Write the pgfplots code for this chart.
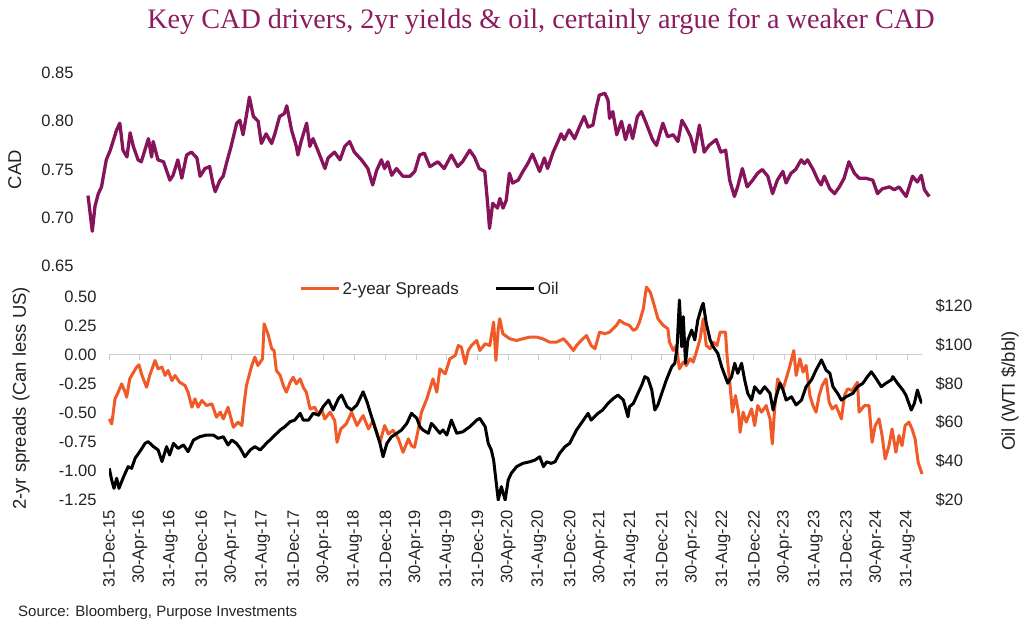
\documentclass[border=0pt]{standalone}
\usepackage{pgfplots}
\pgfplotsset{compat=1.18}
\usepackage{fontspec}
\setmainfont{Liberation Sans}
\newfontfamily\titlefont{Liberation Serif}
\definecolor{cadc}{RGB}{134,20,90}
\definecolor{titlec}{RGB}{140,28,95}
\definecolor{spreadc}{RGB}{240,90,40}
\definecolor{txt}{RGB}{35,35,35}
\definecolor{zeroc}{RGB}{205,205,205}
\newcommand{\tickfont}{\fontsize{16.5}{18}\selectfont}
\newcommand{\labfont}{\fontsize{18.5}{20}\selectfont}

\begin{document}
\begin{tikzpicture}[x=1pt,y=1pt]
\path[use as bounding box] (0,0) rectangle (1024,-633);
\node[font=\titlefont\fontsize{28.2}{32}\selectfont, text=titlec, inner sep=0] at (541,-22) {Key CAD drivers, 2yr yields \& oil, certainly argue for a weaker CAD};
\node[font=\fontsize{15}{17}\selectfont, text=txt, inner sep=0, anchor=west] at (18,-613) {Source: Bloomberg, Purpose Investments};

% ---------------- top panel: CAD
\begin{axis}[at={(88pt,-266pt)}, anchor=south west, scale only axis,
  width=842pt, height=193pt, xmin=0, xmax=105.9, ymin=0.65, ymax=0.85,
  clip=false,
  xtick=\empty, ytick={0.65,0.7,0.75,0.8,0.85},
  yticklabels={0.65,0.70,0.75,0.80,0.85},
  axis line style={draw=none}, tick style={draw=none},
  yticklabel style={font=\tickfont, text=txt},
  yticklabel shift=11pt,
  ylabel={CAD}, ylabel style={font=\labfont, text=txt, at={(axis description cs:-0.087,0.5)}, anchor=center},
]
\addplot[cadc, line width=3.3pt, line join=round, no markers] coordinates {
(0,0.723)(0.54,0.686)(0.88,0.712)(1.3,0.725)(1.7,0.732)(2.3,0.760)(2.8,0.770)(3.6,0.791)(4.0,0.798)(4.4,0.770)
(4.9,0.763)(5.3,0.788)(5.7,0.774)(6.3,0.760)(6.7,0.758)(7.6,0.782)(8.0,0.763)(8.2,0.779)(8.8,0.760)(9.5,0.758)
(10.3,0.739)(10.7,0.744)(11.3,0.760)(11.8,0.741)(12.4,0.765)(13.0,0.768)(13.7,0.762)(14.1,0.743)(14.7,0.751)(15.3,0.753)
(15.7,0.736)(16.0,0.727)(16.6,0.739)(17.0,0.743)(17.4,0.756)(18.0,0.774)(18.7,0.798)(19.1,0.801)(19.5,0.786)(19.9,0.805)
(20.3,0.825)(20.8,0.805)(21.4,0.800)(21.8,0.777)(22.4,0.787)(23.1,0.777)(23.5,0.787)(24.1,0.805)(24.7,0.808)(25.0,0.816)
(25.6,0.791)(26.2,0.774)(26.4,0.765)(26.8,0.779)(27.5,0.798)(27.9,0.774)(28.3,0.782)(28.9,0.770)(29.8,0.751)(30.2,0.762)
(31.0,0.768)(31.7,0.760)(32.3,0.774)(32.9,0.779)(33.5,0.768)(34.4,0.760)(35.2,0.751)(35.8,0.734)(36.3,0.749)(36.9,0.760)
(37.3,0.751)(37.7,0.758)(38.2,0.744)(38.8,0.751)(39.6,0.743)(40.5,0.743)(41.1,0.748)(41.7,0.765)(42.3,0.767)(43.0,0.753)
(44.0,0.758)(44.8,0.751)(45.7,0.765)(46.5,0.753)(47.1,0.758)(48.0,0.770)(48.6,0.763)(49.2,0.751)(49.9,0.748)(50.3,0.711)
(50.5,0.689)(50.9,0.715)(51.5,0.710)(51.8,0.720)(52.2,0.710)(52.6,0.718)(53.0,0.746)(53.4,0.736)(54.1,0.739)(54.7,0.748)
(55.3,0.756)(55.9,0.766)(56.8,0.748)(57.4,0.762)(57.8,0.751)(58.5,0.768)(59.1,0.779)(59.5,0.787)(59.9,0.781)(60.5,0.791)
(61.2,0.782)(61.8,0.794)(62.4,0.805)(62.9,0.794)(63.5,0.796)(63.9,0.813)(64.3,0.827)(65.0,0.829)(65.4,0.822)(65.6,0.803)
(66.0,0.810)(66.5,0.786)(67.1,0.800)(67.6,0.781)(68.1,0.796)(68.5,0.782)(69.1,0.805)(69.6,0.810)(70.2,0.798)(71.0,0.781)
(71.5,0.775)(72.3,0.798)(72.9,0.784)(73.6,0.786)(74.2,0.779)(74.7,0.801)(75.2,0.794)(75.8,0.784)(76.3,0.768)(76.9,0.796)
(77.5,0.768)(78.1,0.775)(79.0,0.781)(79.6,0.768)(80.2,0.770)(80.7,0.739)(81.3,0.722)(81.7,0.732)(82.3,0.751)(82.9,0.732)
(83.6,0.739)(84.2,0.746)(84.8,0.750)(85.5,0.743)(86.1,0.725)(86.7,0.739)(87.4,0.748)(87.8,0.736)(88.4,0.746)(89.0,0.750)
(89.7,0.760)(90.1,0.756)(90.5,0.760)(91.2,0.750)(91.8,0.739)(92.2,0.734)(92.6,0.743)(93.3,0.730)(93.9,0.725)(94.5,0.732)
(95.1,0.741)(95.7,0.758)(96.4,0.746)(97.0,0.741)(97.8,0.741)(98.7,0.739)(99.3,0.725)(99.9,0.730)(100.8,0.732)(101.4,0.729)
(102.0,0.732)(102.9,0.722)(103.7,0.743)(104.3,0.737)(104.8,0.744)(105.2,0.729)(105.8,0.722)
};
\end{axis}

% ---------------- bottom panel: zero line with ticks
\begin{axis}[at={(109pt,-500pt)}, anchor=south west, scale only axis,
  width=813pt, height=203.3pt, xmin=0, xmax=105.9, ymin=-1.25, ymax=0.5,
  axis x line=middle, axis y line=none, axis line style={-, draw=zeroc, line width=1pt},
  xtick={0,4,...,104}, xticklabels={}, ytick=\empty,
  tick align=outside, major tick length=5pt, xtick style={draw=zeroc, line width=1pt},
]
\addplot[draw=none] coordinates {(0,0)};
\end{axis}

% ---------------- bottom panel: spreads (left axis)
\begin{axis}[at={(109pt,-500pt)}, anchor=south west, scale only axis,
  width=813pt, height=203.3pt, xmin=0, xmax=105.9, ymin=-1.25, ymax=0.5,
  clip=false,
  axis line style={draw=none}, tick style={draw=none},
  ytick={-1.25,-1,-0.75,-0.5,-0.25,0,0.25,0.5},
  yticklabels={-1.25,-1.00,-0.75,-0.50,-0.25,0.00,0.25,0.50},
  xtick={0,4,...,104},
  xticklabels={31-Dec-15,30-Apr-16,31-Aug-16,31-Dec-16,30-Apr-17,31-Aug-17,31-Dec-17,30-Apr-18,31-Aug-18,31-Dec-18,30-Apr-19,31-Aug-19,31-Dec-19,30-Apr-20,31-Aug-20,31-Dec-20,30-Apr-21,31-Aug-21,31-Dec-21,30-Apr-22,31-Aug-22,31-Dec-22,30-Apr-23,31-Aug-23,31-Dec-23,30-Apr-24,31-Aug-24},
  xticklabel style={font=\tickfont, text=txt, rotate=90, anchor=east},
  xticklabel shift=7pt,
  yticklabel style={font=\tickfont, text=txt},
  yticklabel shift=9pt,
  ylabel={2-yr spreads (Can less US)}, ylabel style={font=\labfont, text=txt, at={(axis description cs:-0.108,0.5)}, anchor=center},
]
\addplot[spreadc, line width=3pt, line join=round, no markers] coordinates {
(0.04,-0.552)(0.35,-0.595)(0.56,-0.494)(0.78,-0.379)(1.2,-0.322)(1.65,-0.25)(2.1,-0.322)(2.3,-0.365)(2.7,-0.207)(3.2,-0.149)
(3.6,-0.106)(3.9,-0.086)(4.3,-0.178)(4.9,-0.279)(5.3,-0.178)(6.0,-0.049)(6.4,-0.121)(6.9,-0.106)(7.3,-0.178)(7.7,-0.135)
(8.2,-0.222)(8.6,-0.178)(9.2,-0.236)(9.9,-0.264)(10.3,-0.322)(10.8,-0.451)(11.2,-0.379)(11.6,-0.451)(12.1,-0.393)(12.7,-0.437)
(13.4,-0.422)(14.0,-0.537)(14.5,-0.494)(14.9,-0.552)(15.5,-0.451)(16.2,-0.624)(16.8,-0.580)(17.3,-0.609)(17.6,-0.422)(17.9,-0.264)
(18.6,-0.092)(19.0,-0.020)(19.4,-0.092)(20.0,-0.034)(20.2,0.267)(20.7,0.181)(21.2,0.052)(21.5,0.037)(21.8,-0.135)(22.3,-0.178)
(22.7,-0.264)(23.1,-0.322)(23.6,-0.236)(24.0,-0.193)(24.4,-0.25)(24.9,-0.207)(25.3,-0.279)(25.7,-0.322)(26.2,-0.466)(26.8,-0.451)
(27.3,-0.523)(27.7,-0.466)(28.1,-0.552)(28.8,-0.494)(29.4,-0.566)(29.7,-0.753)(30.2,-0.638)(30.9,-0.595)(31.6,-0.494)(32.3,-0.609)
(33.1,-0.523)(33.8,-0.638)(34.4,-0.566)(35.3,-0.753)(35.9,-0.609)(36.4,-0.681)(37.0,-0.65)(37.7,-0.724)(38.3,-0.839)(39.0,-0.724)
(39.4,-0.782)(39.8,-0.796)(40.3,-0.638)(40.7,-0.494)(41.4,-0.379)(41.8,-0.293)(42.2,-0.207)(42.7,-0.322)(43.1,-0.121)(43.8,-0.164)
(44.4,-0.034)(45.1,-0.006)(45.5,0.080)(45.9,0.066)(46.4,-0.078)(46.8,0.037)(47.2,0.080)(47.9,0.123)(48.3,0.037)(49.0,0.095)
(49.6,0.080)(50.1,0.282)(50.4,-0.049)(50.7,0.224)(50.9,0.310)(51.3,0.181)(52.2,0.138)(53.1,0.123)(53.9,0.138)(54.8,0.152)
(55.7,0.152)(56.5,0.138)(57.4,0.109)(58.3,0.109)(59.2,0.138)(59.8,0.095)(60.5,0.037)(60.9,0.080)(61.5,0.123)(62.2,0.166)
(62.8,0.080)(63.3,0.052)(63.9,0.195)(64.6,0.181)(65.2,0.195)(66.1,0.253)(66.5,0.296)(67.2,0.267)(67.8,0.253)(68.3,0.210)
(68.7,0.224)(69.1,0.282)(69.6,0.397)(70.0,0.583)(70.5,0.54)(70.9,0.454)(71.5,0.310)(72.2,0.253)(72.8,0.224)(73.0,0.109)
(73.5,0.037)(73.9,0.080)(74.3,-0.121)(74.8,-0.063)(75.2,-0.092)(75.7,-0.034)(76.1,-0.063)(76.5,0.023)(77.0,0.138)(77.4,0.310)
(77.8,0.080)(78.3,0.052)(78.7,0.109)(79.2,0.080)(79.6,0.195)(80.3,0.195)(80.5,-0.006)(80.9,-0.264)(81.2,-0.494)(81.6,-0.351)
(82.0,-0.494)(82.2,-0.667)(82.6,-0.494)(83.0,-0.580)(83.7,-0.466)(84.1,-0.609)(84.5,-0.437)(85.0,-0.494)(85.6,-0.437)(86.1,-0.552)
(86.4,-0.767)(86.7,-0.466)(87.1,-0.207)(87.8,-0.293)(88.2,-0.207)(88.7,-0.092)(89.2,0.037)(89.5,-0.178)(90.0,-0.034)(90.4,-0.149)
(90.8,-0.092)(91.3,-0.351)(91.7,-0.437)(92.1,-0.494)(92.5,-0.351)(92.9,-0.264)(93.4,-0.207)(93.8,-0.408)(94.2,-0.466)(94.7,-0.437)
(95.4,-0.552)(95.8,-0.351)(96.2,-0.293)(96.8,-0.307)(97.5,-0.236)(97.7,-0.494)(98.4,-0.437)(99.0,-0.437)(99.4,-0.753)(99.8,-0.609)
(100.3,-0.552)(100.7,-0.695)(101.1,-0.897)(101.6,-0.782)(102.0,-0.638)(102.5,-0.839)(102.9,-0.695)(103.3,-0.782)(103.7,-0.609)(104.2,-0.580)
(104.6,-0.638)(105.0,-0.724)(105.4,-0.925)(105.9,-1.026)
};
\end{axis}

% ---------------- bottom panel: oil (right axis)
\begin{axis}[at={(109pt,-500pt)}, anchor=south west, scale only axis,
  width=813pt, height=203.3pt, xmin=0, xmax=105.9, ymin=20, ymax=124.8,
  axis x line=none, axis y line*=right,
  axis line style={draw=none}, tick style={draw=none},
  ytick={20,40,60,80,100,120},
  yticklabels={\$20,\$40,\$60,\$80,\$100,\$120},
  yticklabel style={font=\tickfont, text=txt},
  yticklabel shift=10pt,
  ylabel={Oil (WTI \$/bbl)}, ylabel style={font=\labfont, text=txt, at={(axis description cs:1.108,0.536)}, anchor=center, rotate=0},
  legend style={at={(0.395,1.038)}, anchor=center, draw=none, fill=none,
    font=\fontsize{17}{19}\selectfont, text=txt, legend columns=2,
    /tikz/every even column/.append style={column sep=34pt}},
  legend image code/.code={\draw[#1] (0pt,0pt) -- (38pt,0pt);},
]
\addlegendimage{spreadc, line width=3pt}
\addlegendentry{2-year Spreads}
\addplot[black, line width=3pt, line join=round, no markers] coordinates {
(0.04,36.3)(0.35,30.3)(0.65,26.0)(1.0,31.2)(1.3,26.0)(1.9,32.0)(2.5,37.2)(2.95,36.3)(3.4,41.5)(4.0,44.9)
(4.7,49.2)(5.1,50.1)(5.8,47.5)(6.4,45.8)(6.9,39.8)(7.5,47.5)(7.9,43.2)(8.4,49.2)(9.0,46.6)(9.7,48.4)
(10.3,44.9)(11.0,50.9)(11.8,52.6)(12.7,53.5)(13.6,53.5)(14.2,51.8)(14.9,52.6)(15.5,48.4)(16.0,50.9)(16.6,49.2)
(17.1,46.6)(17.7,42.3)(18.4,45.8)(19.0,47.5)(19.7,45.8)(20.5,49.2)(21.4,52.6)(22.3,56.1)(22.9,57.8)(23.6,60.4)
(24.2,61.2)(24.9,64.7)(25.3,61.2)(26.0,61.2)(26.6,64.7)(27.3,63.8)(27.9,68.1)(28.6,71.5)(29.2,66.4)(29.9,72.4)
(30.3,74.1)(31.0,68.1)(31.6,66.4)(32.3,69.0)(33.1,75.8)(33.6,70.7)(34.2,62.9)(34.6,57.8)(35.3,49.2)(35.7,42.3)
(36.2,49.2)(36.8,52.6)(37.5,54.4)(38.1,56.1)(38.8,59.5)(39.4,64.7)(40.1,62.1)(40.5,57.8)(40.9,56.1)(41.6,54.4)
(42.0,59.5)(42.4,57.8)(43.1,54.4)(43.5,56.1)(44.0,53.5)(44.6,61.2)(45.3,54.4)(46.1,55.2)(47.0,57.8)(47.9,61.2)
(48.3,62.1)(49.0,57.8)(49.4,49.2)(49.8,45.8)(50.1,40.6)(50.4,30.3)(50.7,20.0)(51.1,26.9)(51.6,20.0)(52.0,30.3)
(52.4,33.8)(53.1,37.2)(53.9,38.9)(54.8,39.7)(55.5,40.6)(56.1,42.3)(56.6,37.2)(57.0,39.7)(57.6,38.9)(58.1,39.7)
(58.7,44.1)(59.4,47.5)(60.0,49.2)(60.9,56.1)(61.8,61.2)(62.4,64.7)(62.8,61.2)(63.7,64.7)(64.3,66.4)(65.0,69.8)
(65.7,72.4)(66.3,74.1)(67.0,71.5)(67.6,62.9)(67.8,68.1)(68.3,69.8)(68.9,75.0)(69.4,79.3)(69.8,83.6)(70.2,82.7)
(70.7,76.7)(71.1,66.4)(71.5,69.0)(72.0,75.0)(72.6,81.9)(73.3,88.7)(73.7,90.5)(74.0,99.0)(74.3,123.1)(74.6,99.0)
(74.8,114.5)(75.1,90.5)(75.4,102.5)(75.9,107.6)(76.3,102.5)(76.7,112.8)(77.2,119.6)(77.4,121.4)(77.8,111.1)(78.3,102.5)
(78.7,99.0)(79.3,95.6)(79.8,88.7)(80.2,84.4)(80.6,80.2)(81.1,83.6)(81.5,90.5)(81.9,85.3)(82.4,90.5)(82.8,81.9)
(83.2,75.0)(83.7,71.5)(84.1,78.4)(84.8,75.0)(85.4,78.4)(86.1,75.0)(86.5,66.4)(86.9,73.2)(87.4,80.2)(87.8,76.7)
(88.2,71.5)(88.9,73.2)(89.5,69.0)(90.2,71.5)(90.8,78.4)(91.5,81.9)(92.1,87.0)(92.8,92.2)(93.4,87.0)(93.9,85.3)
(94.3,78.4)(94.9,75.0)(95.4,71.5)(96.0,73.2)(96.9,75.0)(97.5,78.4)(98.2,80.2)(98.8,83.6)(99.3,86.1)(99.9,82.7)
(100.6,78.4)(101.2,80.2)(101.9,81.9)(102.1,83.6)(102.7,80.2)(103.4,76.7)(103.8,74.1)(104.5,66.4)(104.9,69.8)(105.3,76.7)
(105.7,71.5)(105.9,69.8)
};
\addlegendentry{Oil}
\end{axis}
\end{tikzpicture}
\end{document}
